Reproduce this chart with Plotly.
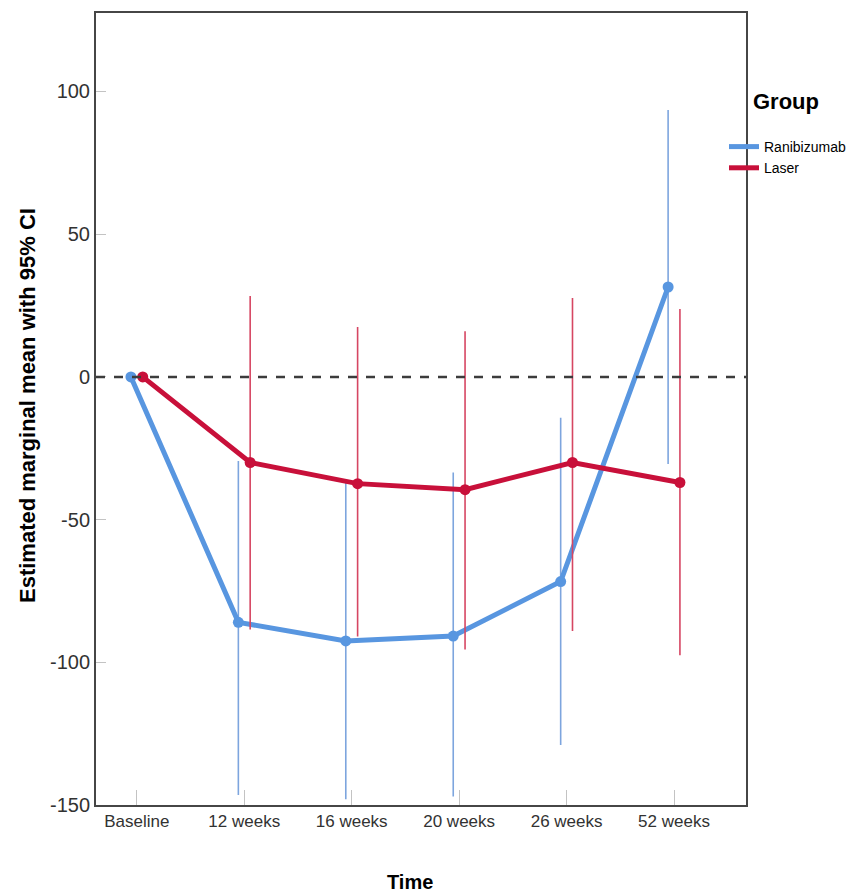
import plotly.graph_objects as go

categories = ["Baseline", "12 weeks", "16 weeks", "20 weeks", "26 weeks", "52 weeks"]

rani_mean = [0, -86, -92.5, -90.8, -71.7, 31.5]
rani_upper = [0, -29.5, -36, -33.5, -14.3, 93.5]
rani_lower = [0, -146.5, -148, -147, -129, -30.5]

laser_mean = [0, -30, -37.4, -39.5, -30, -37]
laser_upper = [0, 28.3, 17.5, 16, 27.6, 23.8]
laser_lower = [0, -88.5, -91, -95.5, -89, -97.5]

y_tickvals = [-150, -100, -50, 0, 50, 100]
y_ticktext = ["-150", "-100", "-50", "0", "50", "100"]

blue = "rgb(88,150,224)"
blue_ci = "rgb(125,165,222)"
red = "rgb(200,16,58)"
red_ci = "rgb(214,70,98)"

idx = list(range(len(categories)))
off = 0.055

fig = go.Figure()

fig.add_trace(go.Scatter(
    x=[i - off for i in idx], y=rani_mean, name="Ranibizumab",
    mode="lines+markers", showlegend=False,
    line=dict(color=blue, width=5),
    marker=dict(color=blue, size=11),
    error_y=dict(type="data", symmetric=False,
                 array=[u - m for u, m in zip(rani_upper, rani_mean)],
                 arrayminus=[m - l for m, l in zip(rani_mean, rani_lower)],
                 color=blue_ci, thickness=1.6, width=0),
))
fig.add_trace(go.Scatter(
    x=[i + off for i in idx], y=laser_mean, name="Laser",
    mode="lines+markers", showlegend=False,
    line=dict(color=red, width=5),
    marker=dict(color=red, size=11),
    error_y=dict(type="data", symmetric=False,
                 array=[u - m for u, m in zip(laser_upper, laser_mean)],
                 arrayminus=[m - l for m, l in zip(laser_mean, laser_lower)],
                 color=red_ci, thickness=1.6, width=0),
))
# legend-only entries (lines without markers)
fig.add_trace(go.Scatter(x=[None], y=[None], mode="lines", name="Ranibizumab",
                         line=dict(color=blue, width=5)))
fig.add_trace(go.Scatter(x=[None], y=[None], mode="lines", name="Laser",
                         line=dict(color=red, width=5)))

fig.add_shape(type="line", xref="paper", x0=0, x1=1, yref="y", y0=0, y1=0,
              line=dict(color="rgb(60,60,60)", width=2.5, dash="dash"), layer="above")

font_fam = "Liberation Sans, Arial"

# page body margin offsets the figure by ~8px
OX, OY = 8, 7
W, H = 860 - OX, 896 - OY
L, R, T, B = 96 - OX, 860 - 746, 12 - OY, 896 - 804
pw, ph = W - L - R, H - T - B

def px_x(p):
    return (p - OX - L) / pw

def px_y(p):
    return (H - B - (p - OY)) / ph

fig.update_layout(
    width=W, height=H,
    margin=dict(l=L, r=R, t=T, b=B, autoexpand=False),
    paper_bgcolor="white", plot_bgcolor="white",
    font=dict(family=font_fam, color="rgb(50,50,50)"),
    xaxis=dict(
        range=[-0.38, 5.67], tickvals=idx, ticktext=categories,
        tickfont=dict(size=17, family=font_fam, color="rgb(50,50,50)"),
        ticks="inside", ticklen=15, tickwidth=1.2, tickcolor="rgb(195,195,195)",
        showgrid=False, zeroline=False, automargin=False,
        showline=True, linecolor="rgb(70,70,70)", linewidth=2, mirror=True,
    ),
    yaxis=dict(
        range=[-150, 127.5], tickvals=y_tickvals, ticktext=y_ticktext,
        tickfont=dict(size=20, family=font_fam, color="rgb(50,50,50)"),
        ticks="inside", ticklen=10, tickwidth=1.2, tickcolor="rgb(195,195,195)",
        showgrid=False, zeroline=False, automargin=False,
        showline=True, linecolor="rgb(70,70,70)", linewidth=2, mirror=True,
    ),
    legend=dict(
        x=px_x(724), y=px_y(130), xanchor="left", yanchor="top",
        font=dict(size=14, family=font_fam, color="black"),
        tracegroupgap=0, itemwidth=30, bgcolor="rgba(0,0,0,0)",
    ),
    annotations=[
        dict(text="<b>Estimated marginal mean with 95% CI</b>", textangle=-90,
             xref="paper", yref="paper", x=px_x(27), y=px_y(405),
             xanchor="center", yanchor="middle", showarrow=False,
             font=dict(size=22, family=font_fam, color="black")),
        dict(text="<b>Time</b>", xref="paper", yref="paper",
             x=px_x(410), y=px_y(881), xanchor="center", yanchor="middle",
             showarrow=False, font=dict(size=20, family=font_fam, color="black")),
        dict(text="<b>Group</b>", xref="paper", yref="paper",
             x=px_x(786), y=px_y(101), xanchor="center", yanchor="middle",
             showarrow=False, font=dict(size=22, family=font_fam, color="black")),
    ],
)

fig.write_html("out.html")
